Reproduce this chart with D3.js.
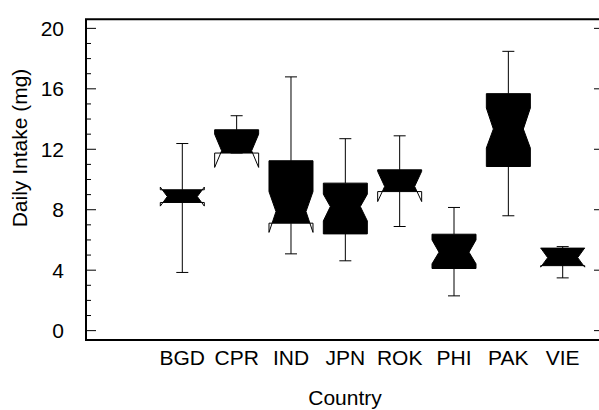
<!DOCTYPE html>
<html>
<head>
<meta charset="utf-8">
<script src="https://cdn.jsdelivr.net/npm/d3@7"></script>
<style>
  body { margin: 0; background: #fff; }
  svg { display: block; }
  text { font-family: Arial, "Liberation Sans", sans-serif; fill: #000; }
</style>
</head>
<body>
<svg id="chart" width="599" height="410"></svg>
<script>
// Daily intake (mg) by country: notched box plots
const countries   = ["BGD", "CPR", "IND", "JPN", "ROK", "PHI", "PAK", "VIE"];
const whiskerHigh = [12.38, 14.22, 16.79, 12.70, 12.89, 8.15, 18.48, 5.56];
const upperQuart  = [9.32, 13.29, 11.24, 9.76, 10.64, 6.38, 15.68, 5.46];
const medians     = [8.87, 11.90, 7.88, 8.21, 9.54, 5.19, 13.34, 4.83];
const lowerQuart  = [8.48, 11.75, 7.11, 6.40, 9.20, 4.11, 10.86, 4.30];
const whiskerLow  = [3.85, 11.75, 5.08, 4.62, 6.89, 2.30, 7.60, 3.49];
const notchHigh   = [9.50, 13.00, 9.20, 9.03, 10.54, 6.00, 14.73, 5.47];
const notchLow    = [8.24, 10.80, 6.50, 7.26, 8.54, 4.42, 12.08, 4.20];
const majorTicks  = [0, 4, 8, 12, 16, 20];
const minorTicks  = d3.range(0, 21);

const svg = d3.select("#chart");
const plotLeft = 86, plotRight = 600, plotTop = 19.3, plotBottom = 340;
const fontSize = 21;

const y = d3.scaleLinear().domain([-0.62, 20.6]).range([plotBottom, plotTop]);
const x = d3.scalePoint().domain(countries).range([182.3, 562.7]);

const boxW = 44, inset = 7, capW = 12;

const boxes = countries.map((c, i) => ({
  c, hi: whiskerHigh[i], q3: upperQuart[i], med: medians[i],
  q1: lowerQuart[i], lo: whiskerLow[i], nh: notchHigh[i], nl: notchLow[i]
}));

// frame
svg.append("path")
  .attr("d", `M${plotRight},${plotTop}H${plotLeft}V${plotBottom}H${plotRight}`)
  .attr("fill", "none").attr("stroke", "#000").attr("stroke-width", 2);

// left axis ticks (minor every unit, major every 4)
svg.append("g").selectAll("line").data(minorTicks).join("line")
  .attr("x1", plotLeft).attr("x2", d => plotLeft + (d % 4 === 0 ? 10 : 5))
  .attr("y1", d => y(d)).attr("y2", d => y(d))
  .attr("stroke", "#000").attr("stroke-width", 1);

// right axis ticks (major only)
svg.append("g").selectAll("line").data(majorTicks).join("line")
  .attr("x1", 594).attr("x2", 600)
  .attr("y1", d => y(d)).attr("y2", d => y(d))
  .attr("stroke", "#000").attr("stroke-width", 1);

svg.append("g").selectAll("text").data(majorTicks).join("text")
  .attr("x", 64).attr("y", d => y(d)).attr("dy", "0.35em")
  .attr("text-anchor", "end").attr("font-size", fontSize)
  .text(d => d);

// category labels
svg.append("g").selectAll("text").data(countries).join("text")
  .attr("x", d => x(d)).attr("y", 358).attr("dy", "0.35em")
  .attr("text-anchor", "middle").attr("font-size", fontSize)
  .text(d => d);

// axis titles
svg.append("text").attr("x", 345).attr("y", 398).attr("dy", "0.35em")
  .attr("text-anchor", "middle").attr("font-size", fontSize).text("Country");
svg.append("text").attr("transform", "translate(20,148) rotate(-90)")
  .attr("dy", "0.35em").attr("text-anchor", "middle").attr("font-size", fontSize)
  .text("Daily Intake (mg)");

const g = svg.append("g").selectAll("g").data(boxes).join("g");

// whiskers
g.append("path")
  .attr("d", b => {
    const cx = x(b.c);
    return `M${cx},${y(b.q3)}V${y(b.hi)}M${cx - capW / 2},${y(b.hi)}H${cx + capW / 2}` +
           `M${cx},${y(b.q1)}V${y(b.lo)}M${cx - capW / 2},${y(b.lo)}H${cx + capW / 2}`;
  })
  .attr("fill", "none").attr("stroke", "#000").attr("stroke-width", 1);

// filled body: notched outline limited to the quartile range
g.append("path")
  .attr("d", b => {
    const cx = x(b.c), L = cx - boxW / 2;
    const yQ3 = y(b.q3), yQ1 = y(b.q1), yM = y(b.med), yNU = y(b.nh), yNL = y(b.nl);
    const off = yy => {
      if (yy >= yNU && yy <= yM) return inset * (yy - yNU) / (yM - yNU);
      if (yy > yM && yy <= yNL) return inset * (yNL - yy) / (yNL - yM);
      return 0;
    };
    const ys = Array.from(new Set([yQ3, yNU, yM, yNL, yQ1]))
      .filter(v => v >= yQ3 && v <= yQ1).sort((a, b2) => a - b2);
    const leftPts = ys.map(v => [L + off(v), v]);
    const rightPts = ys.slice().reverse().map(v => [cx + boxW / 2 - off(v), v]);
    return d3.line()(leftPts.concat(rightPts)) + "Z";
  })
  .attr("fill", "#000");

// full notch outline (shows notch reaching past the quartiles)
g.append("path")
  .attr("d", b => {
    const cx = x(b.c), L = cx - boxW / 2, R = cx + boxW / 2;
    const yQ3 = y(b.q3), yQ1 = y(b.q1), yM = y(b.med), yNU = y(b.nh), yNL = y(b.nl);
    return d3.line()([
      [L, yQ3], [L, yNU], [L + inset, yM], [L, yNL], [L, yQ1],
      [R, yQ1], [R, yNL], [R - inset, yM], [R, yNU], [R, yQ3]
    ]) + "Z";
  })
  .attr("fill", "none").attr("stroke", "#000").attr("stroke-width", 1);
</script>
</body>
</html>
